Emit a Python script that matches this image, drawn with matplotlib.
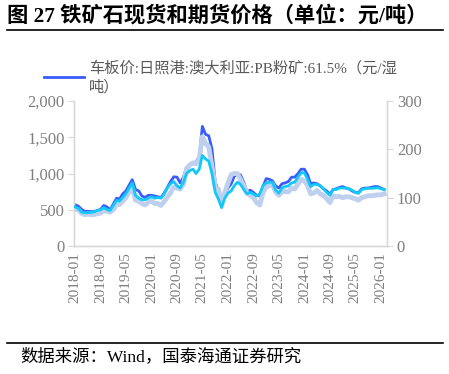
import pandas as pd
import matplotlib
matplotlib.use("Agg")
import matplotlib.pyplot as plt
import matplotlib.dates as mdates

plt.rcParams['font.family'] = ['Liberation Serif', 'Noto Sans CJK SC', 'DejaVu Sans']

# monthly samples, 2018-01 .. 2026-02
dates = pd.date_range('2018-01-01', periods=98, freq='MS')

# 车板价:日照港:澳大利亚:PB粉矿:61.5% (元/湿吨), left axis
pb_spot = [
    570, 550, 510, 480, 480, 475, 475, 490, 505, 560, 540, 500,
    580, 660, 650, 720, 760, 840, 915, 780, 760, 690, 670, 700,
    700, 690, 680, 670, 730, 810, 890, 955, 950, 870, 950, 1080,
    1120, 1150, 1160, 1230, 1650, 1540, 1520, 1340, 880, 760, 570, 700,
    800, 860, 960, 1000, 980, 880, 750, 770, 740, 700, 690, 820,
    930, 920, 900, 830, 800, 860, 870, 890, 950, 950, 1000, 1060,
    1060, 980, 860, 870, 860, 830, 790, 760, 715, 780, 790, 810,
    820, 800, 790, 760, 740, 735, 790, 800, 800, 810, 820, 820,
    800, 780,
]

# 期货价格 (元/吨), left axis
futures = [
    540, 520, 470, 460, 460, 465, 470, 490, 500, 530, 505, 490,
    560, 630, 620, 670, 720, 800, 870, 700, 660, 640, 640, 660,
    680, 660, 670, 660, 720, 800, 860, 890, 830, 800, 880, 1000,
    1040, 1060, 1000, 1060, 1250, 1200, 1170, 1000, 740, 650, 530, 660,
    730, 760, 830, 880, 850, 780, 720, 740, 720, 690, 720, 830,
    870, 880, 880, 770, 730, 800, 820, 830, 870, 880, 950, 1010,
    1010, 920, 820, 850, 850, 830, 790, 740, 700, 780, 780, 800,
    800, 800, 790, 770, 740, 725, 780, 790, 800, 795, 800, 805,
    790, 780,
]

# 普氏指数 (美元/吨), right axis
platts = [
    76, 75, 68, 65, 66, 65, 65, 67, 68, 73, 72, 70,
    75, 86, 86, 93, 100, 112, 122, 95, 93, 88, 85, 91,
    93, 88, 88, 84, 92, 102, 110, 122, 120, 118, 128, 160,
    168, 172, 170, 180, 226, 212, 205, 165, 122, 118, 88, 110,
    130, 148, 150, 150, 138, 125, 110, 105, 100, 90, 85, 110,
    122, 125, 128, 112, 105, 112, 113, 112, 120, 118, 128, 138,
    135, 125, 108, 110, 115, 108, 105, 98, 90, 104, 102, 103,
    100, 102, 102, 100, 98, 95, 100, 102, 104, 104, 105, 106,
    106, 108,
]

label_ticks = pd.date_range('2018-01-01', '2026-01-01', freq='8MS')
mark_ticks = pd.date_range('2018-01-01', '2026-01-01', freq='24MS')

dark = '#3A5CFF'
cyan = '#12C8F8'
light = '#BFD0EE'
grey = '#7F7F7F'
spine = '#D9D9D9'

fig = plt.figure(figsize=(4.49, 3.74), dpi=100)
ax = fig.add_axes([0.165, 0.342, 0.697, 0.388])
ax2 = ax.twinx()
ax3 = ax.twinx()

ax.plot(dates, pb_spot, color=dark, lw=2.0,
        label='车板价:日照港:澳大利亚:PB粉矿:61.5%（元/湿\n吨）')
ax2.plot(dates, platts, color=light, lw=3.5)
ax3.plot(dates, futures, color=cyan, lw=2.0)

xmin, xmax = pd.Timestamp('2017-12-22'), pd.Timestamp('2026-03-01')
for a in (ax, ax2, ax3):
    a.set_xlim(xmin, xmax)
ax.set_ylim(0, 2000)
ax3.set_ylim(0, 2000)
ax2.set_ylim(0, 300)
ax3.axis('off')

ax.set_yticks([0, 500, 1000, 1500, 2000])
ax.set_yticklabels(['0', '500', '1,000', '1,500', '2,000'])
ax2.set_yticks([0, 100, 200, 300])

ax.xaxis.set_major_locator(plt.FixedLocator(mdates.date2num(label_ticks)))
ax.xaxis.set_major_formatter(mdates.DateFormatter('%Y-%m'))
ax.xaxis.set_minor_locator(plt.FixedLocator(mdates.date2num(mark_ticks)))
ax.tick_params(axis='x', which='major', length=0, labelsize=11, colors=grey,
               labelrotation=90, pad=4)
ax.tick_params(axis='x', which='minor', length=4, color=spine)
ax.tick_params(axis='y', length=4, color=spine, labelcolor=grey, labelsize=12, pad=3)
ax2.tick_params(axis='y', length=4, color=spine, labelcolor=grey, labelsize=12, pad=3)

for a in (ax, ax2):
    a.spines['top'].set_visible(False)
    for s in ('left', 'right', 'bottom'):
        a.spines[s].set_color(spine)
        a.spines[s].set_linewidth(1.0)

leg = fig.legend(loc='upper left', bbox_to_anchor=(0.085, 0.855), frameon=False,
                 fontsize=11, handlelength=2.6, handletextpad=0.3,
                 labelcolor='#595959', borderaxespad=0)
for t in leg.get_texts():
    t.set_linespacing(1.45)

fig.text(0.016, 0.958, '图 27 铁矿石现货和期货价格（单位：元/吨）',
         fontsize=15.3, fontweight='bold', va='center', ha='left')
fig.add_artist(plt.Line2D([0.016, 0.987], [0.92, 0.92], color='black', lw=1.2))
fig.add_artist(plt.Line2D([0.016, 0.987], [0.084, 0.084], color='black', lw=1.2))
fig.text(0.045, 0.045, '数据来源：Wind，国泰海通证券研究', fontsize=12.5,
         va='center', ha='left')

fig.savefig('out.png', dpi=100)
